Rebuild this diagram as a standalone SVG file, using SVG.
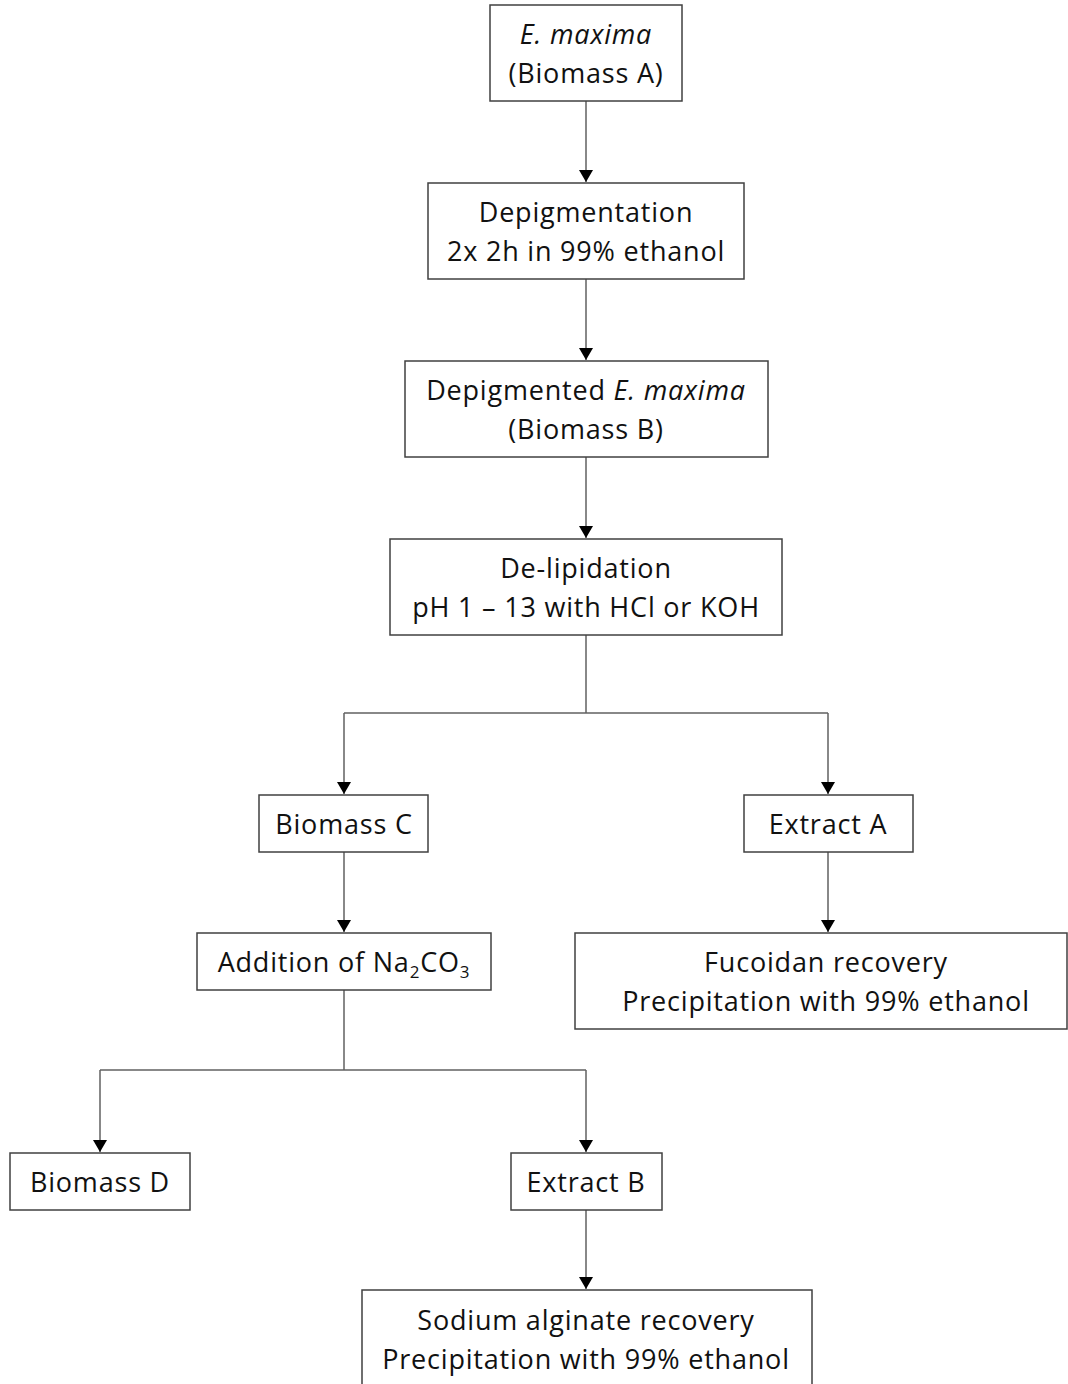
<svg xmlns="http://www.w3.org/2000/svg" width="1068" height="1384" viewBox="0 0 1068 1384">
<style>
.box{fill:#fff;stroke:#404040;stroke-width:1.5}
.t{font-family:"Open Sans","Liberation Sans",sans-serif;font-size:27px;letter-spacing:0.8px;fill:#111;text-anchor:middle}
.c{fill:none;stroke:#606060;stroke-width:1.5}
</style>
<defs>
<marker id="ah" viewBox="0 0 12 14" refX="12" refY="7" markerWidth="12" markerHeight="14" markerUnits="userSpaceOnUse" orient="auto">
<path d="M0,0 L12,7 L0,14 z" fill="#000"/>
</marker>
</defs>
<rect width="1068" height="1384" fill="#fff"/>
<g id="connectors">
<line class="c" x1="586" y1="101" x2="586" y2="182" marker-end="url(#ah)"/>
<line class="c" x1="586" y1="279" x2="586" y2="360" marker-end="url(#ah)"/>
<line class="c" x1="586" y1="457" x2="586" y2="538" marker-end="url(#ah)"/>
<polyline class="c" points="586,635 586,713"/>
<polyline class="c" points="344,713 828,713"/>
<line class="c" x1="344" y1="713" x2="344" y2="794" marker-end="url(#ah)"/>
<line class="c" x1="828" y1="713" x2="828" y2="794" marker-end="url(#ah)"/>
<line class="c" x1="344" y1="852" x2="344" y2="932" marker-end="url(#ah)"/>
<line class="c" x1="828" y1="852" x2="828" y2="932" marker-end="url(#ah)"/>
<polyline class="c" points="344,990 344,1070"/>
<polyline class="c" points="100,1070 586,1070"/>
<line class="c" x1="100" y1="1070" x2="100" y2="1152" marker-end="url(#ah)"/>
<line class="c" x1="586" y1="1070" x2="586" y2="1152" marker-end="url(#ah)"/>
<line class="c" x1="586" y1="1210" x2="586" y2="1289" marker-end="url(#ah)"/>
</g>
<g id="biomassA">
<rect class="box" x="490" y="5" width="192" height="96"/>
<text class="t" x="586" y="44" font-style="italic">E. maxima</text>
<text class="t" x="586" y="83">(Biomass A)</text>
</g>
<g id="depigmentation">
<rect class="box" x="428" y="183" width="316" height="96"/>
<text class="t" x="586" y="222">Depigmentation</text>
<text class="t" x="586" y="261">2x 2h in 99% ethanol</text>
</g>
<g id="biomassB">
<rect class="box" x="405" y="361" width="363" height="96"/>
<text class="t" x="586" y="400">Depigmented <tspan font-style="italic">E. maxima</tspan></text>
<text class="t" x="586" y="439">(Biomass B)</text>
</g>
<g id="delipidation">
<rect class="box" x="390" y="539" width="392" height="96"/>
<text class="t" x="586" y="578">De-lipidation</text>
<text class="t" x="586" y="617">pH 1 – 13 with HCl or KOH</text>
</g>
<g id="biomassC">
<rect class="box" x="259" y="795" width="169" height="57"/>
<text class="t" x="344" y="834">Biomass C</text>
</g>
<g id="extractA">
<rect class="box" x="744" y="795" width="169" height="57"/>
<text class="t" x="828" y="834">Extract A</text>
</g>
<g id="addition">
<rect class="box" x="197" y="933" width="294" height="57"/>
<text class="t" x="344" y="972">Addition of Na<tspan font-size="17" dy="6">2</tspan><tspan dy="-6">CO</tspan><tspan font-size="17" dy="6">3</tspan></text>
</g>
<g id="fucoidan">
<rect class="box" x="575" y="933" width="492" height="96"/>
<text class="t" x="826" y="972">Fucoidan recovery</text>
<text class="t" x="826" y="1011">Precipitation with 99% ethanol</text>
</g>
<g id="biomassD">
<rect class="box" x="10" y="1153" width="180" height="57"/>
<text class="t" x="100" y="1192">Biomass D</text>
</g>
<g id="extractB">
<rect class="box" x="511" y="1153" width="151" height="57"/>
<text class="t" x="586" y="1192">Extract B</text>
</g>
<g id="sodium">
<rect class="box" x="362" y="1290" width="450" height="110"/>
<text class="t" x="586" y="1330">Sodium alginate recovery</text>
<text class="t" x="586" y="1369">Precipitation with 99% ethanol</text>
</g>
</svg>
